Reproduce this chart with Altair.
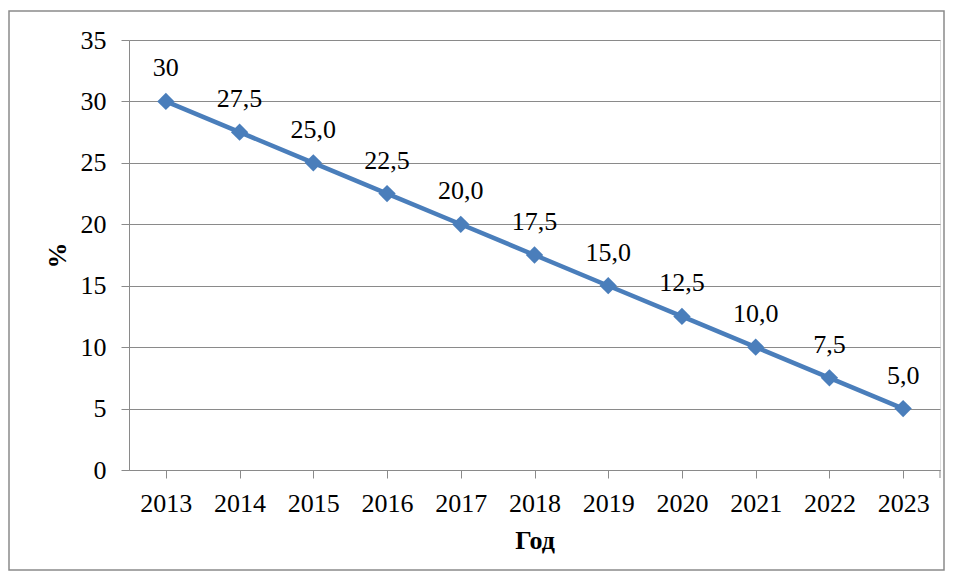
import altair as alt
import pandas as pd

years = ["2013", "2014", "2015", "2016", "2017", "2018", "2019", "2020", "2021", "2022", "2023"]
values = [30, 27.5, 25.0, 22.5, 20.0, 17.5, 15.0, 12.5, 10.0, 7.5, 5.0]
labels = ["30", "27,5", "25,0", "22,5", "20,0", "17,5", "15,0", "12,5", "10,0", "7,5", "5,0"]

df = pd.DataFrame({"year": years, "value": values, "label": labels})

FONT = "Liberation Serif"
GRAY = "#8a8a8a"
BLUE = "#4A7EBB"
FS = 26

W, H = 811, 430

x = alt.X("year:N", sort=years, title="Год",
          scale=alt.Scale(paddingInner=0, paddingOuter=0),
          axis=alt.Axis(labelAngle=0, bandPosition=0, tickSize=8, domainColor=GRAY,
                        tickColor=GRAY, labelFont=FONT, labelFontSize=FS, labelColor="black",
                        labelPadding=12, titleFont=FONT, titleFontSize=FS, titleFontWeight="bold",
                        titleColor="black", titlePadding=11, grid=False))
y = alt.Y("value:Q", title="%",
          scale=alt.Scale(domain=[0, 35], nice=False),
          axis=alt.Axis(values=[0, 5, 10, 15, 20, 25, 30, 35], tickSize=8, domainColor=GRAY,
                        tickColor=GRAY, gridColor=GRAY, labelFont=FONT, labelFontSize=FS,
                        labelColor="black", labelPadding=15, titleFont=FONT, titleFontSize=FS,
                        titleFontWeight="bold", titleColor="black", titlePadding=10))

base = alt.Chart(df)

line = base.mark_line(color=BLUE, strokeWidth=4.5).encode(x=x, y=y)
pts = base.mark_point(shape="diamond", filled=True, size=300, color=BLUE, opacity=1).encode(x=x, y=y)
txt = base.mark_text(font=FONT, fontSize=FS, color="black", baseline="alphabetic", dy=-25).encode(
    x=x, y=y, text="label:N")

last_tick = alt.Chart(pd.DataFrame({"a": [0]})).mark_rule(color=GRAY, strokeWidth=1).encode(
    x=alt.value(W), y=alt.value(H), y2=alt.value(H + 8))
frame = alt.Chart(pd.DataFrame({"a": [0]})).mark_rect(fill=None, stroke=GRAY, strokeWidth=1.5,
                                                      clip=False).encode(
    x=alt.value(-120), x2=alt.value(W + 4), y=alt.value(-29), y2=alt.value(H + 100))

chart = alt.layer(frame, line, pts, txt, last_tick).properties(
    width=W, height=H,
    autosize=alt.AutoSizeParams(type="none"),
    padding={"left": 121, "top": 32, "right": 5, "bottom": 101},
).configure_view(stroke=None).configure(background="white")

chart.save("out.html", embed_options={"renderer": "svg", "actions": False})
